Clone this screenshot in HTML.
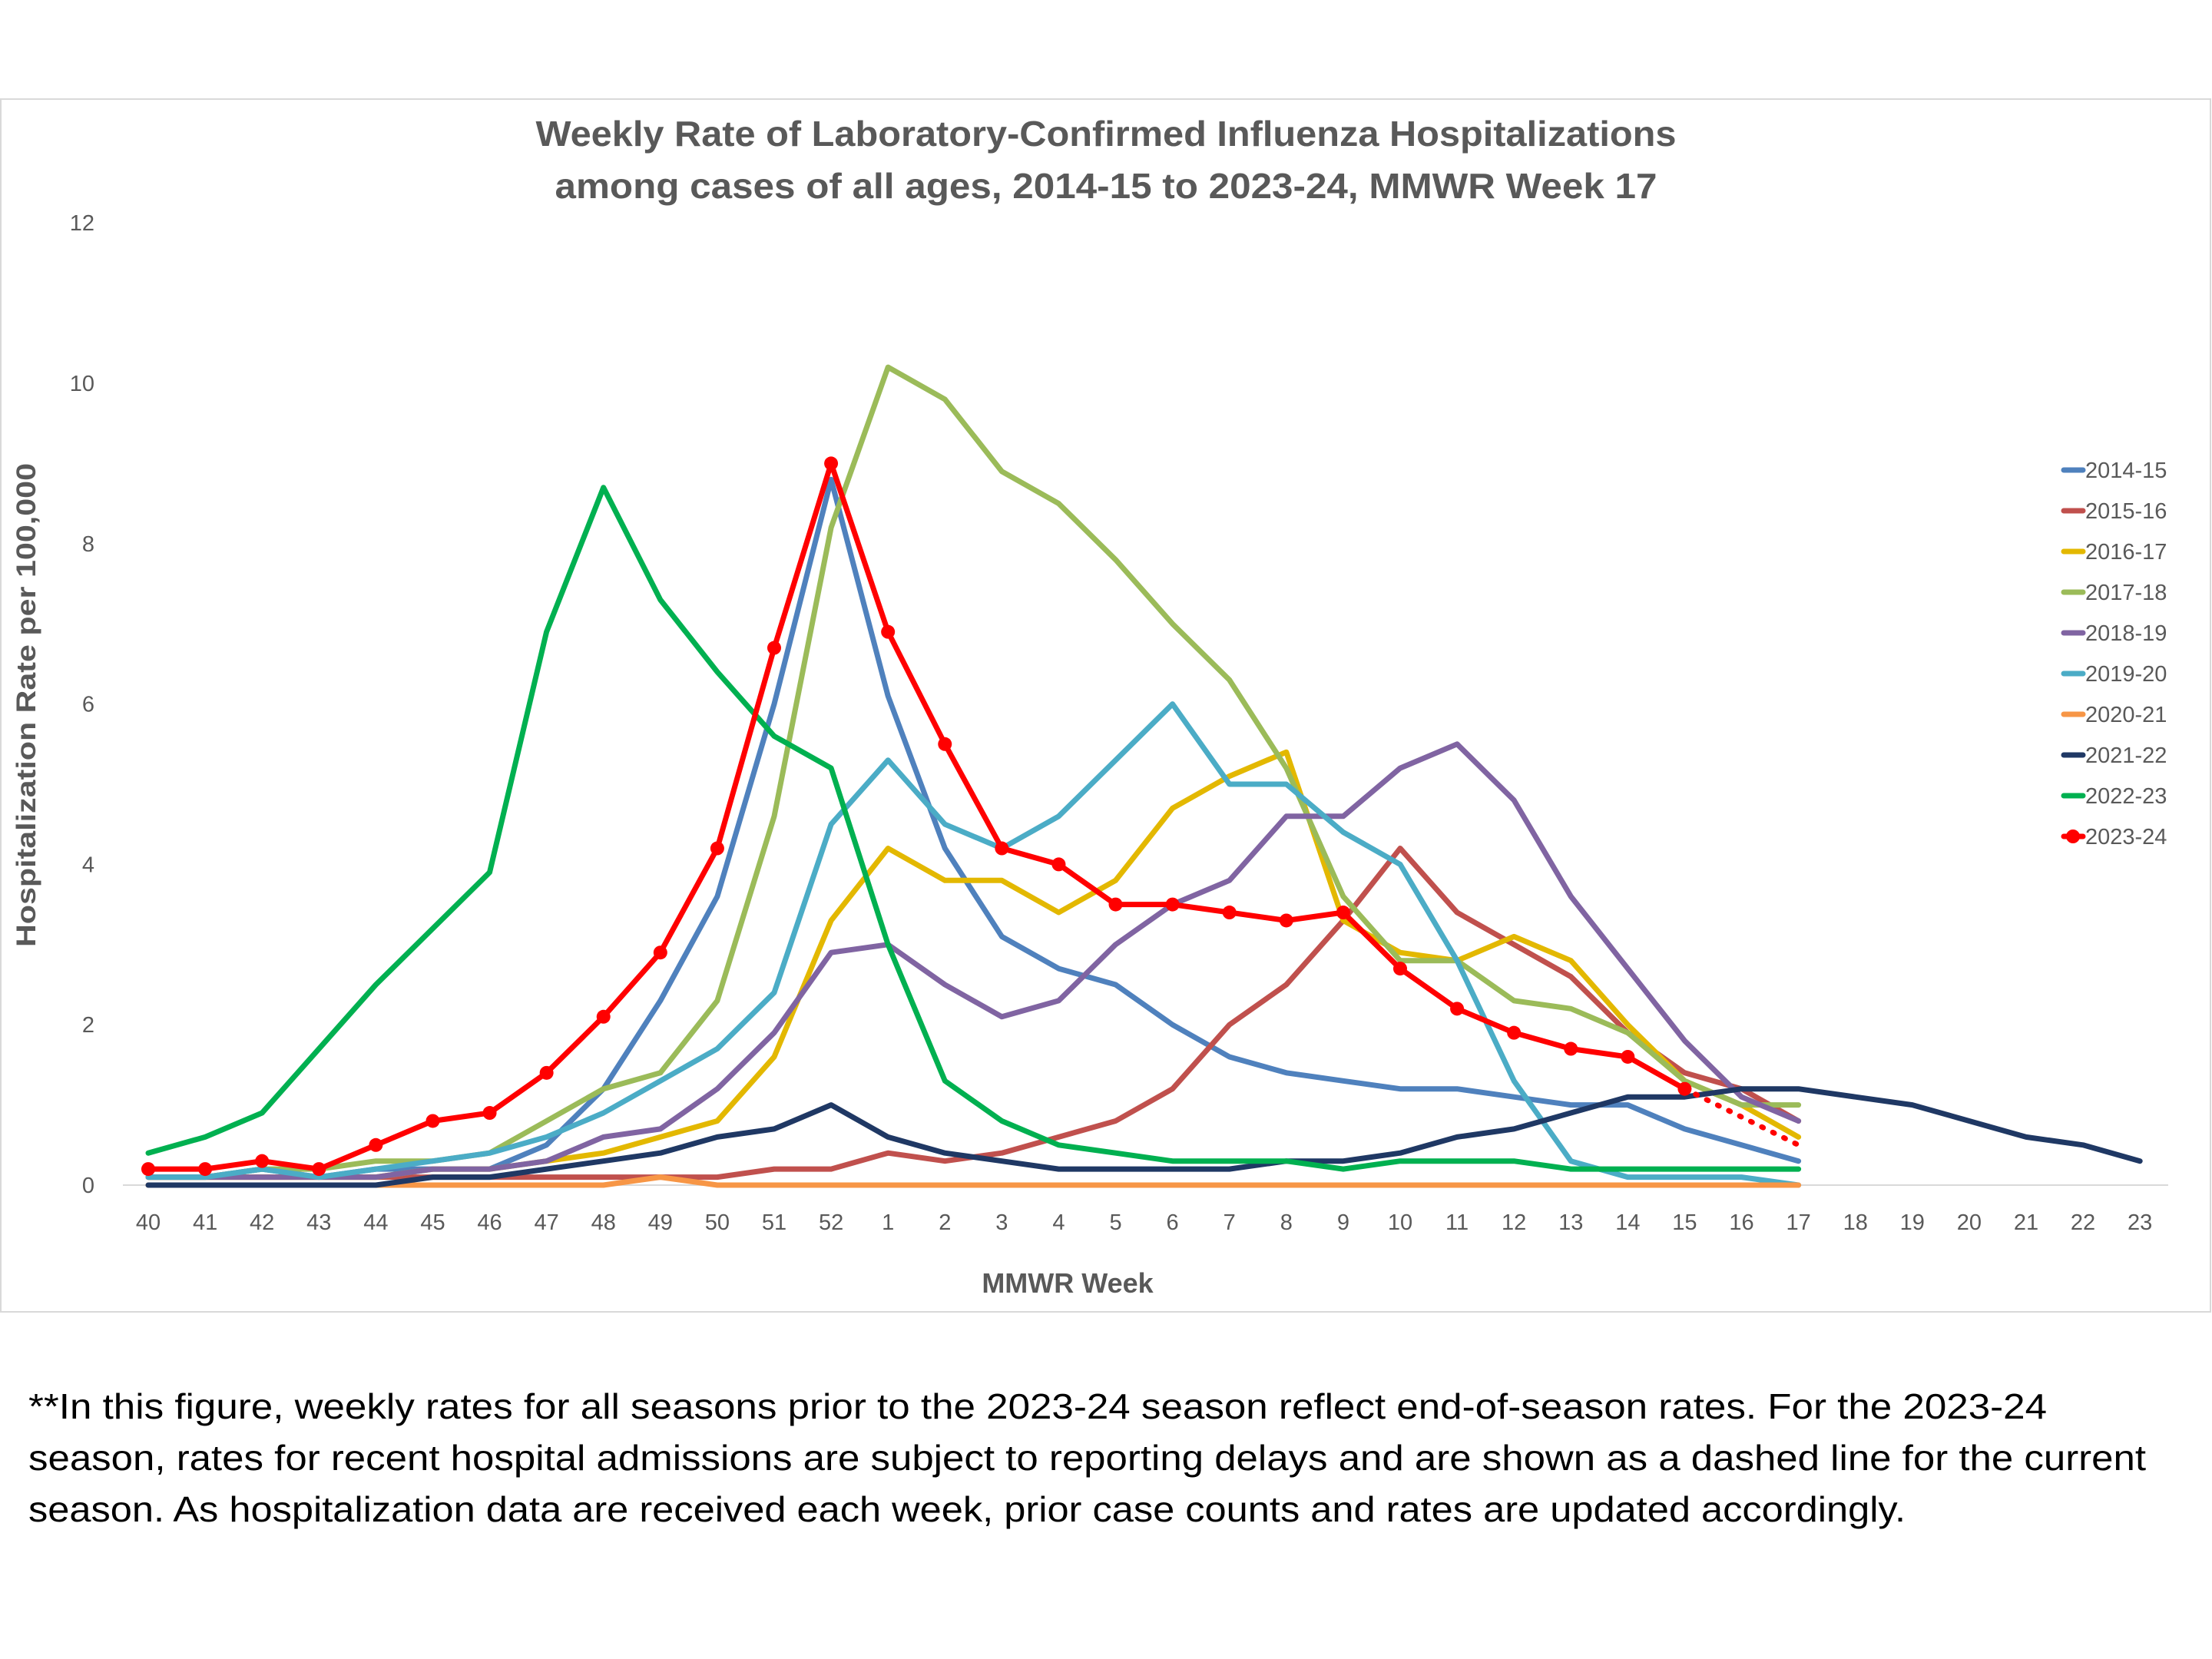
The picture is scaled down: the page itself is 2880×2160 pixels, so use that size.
<!DOCTYPE html>
<html><head><meta charset="utf-8"><style>
html,body{margin:0;padding:0;background:#fff;}
svg{display:block;font-family:"Liberation Sans",sans-serif;}
</style></head><body>
<svg id="chart" width="2880" height="2160" viewBox="0 0 2880 2160" xmlns="http://www.w3.org/2000/svg">
<rect x="1" y="129" width="2877" height="1579" fill="#fff" stroke="#d9d9d9" stroke-width="2"/>
<text x="1440" y="190" text-anchor="middle" font-size="46" font-weight="bold" fill="#595959" textLength="1485" lengthAdjust="spacingAndGlyphs">Weekly Rate of Laboratory-Confirmed Influenza Hospitalizations</text>
<text x="1440" y="258" text-anchor="middle" font-size="46" font-weight="bold" fill="#595959" textLength="1435" lengthAdjust="spacingAndGlyphs">among cases of all ages, 2014-15 to 2023-24, MMWR Week 17</text>
<g id="yticks"></g><g id="xticks"></g><g id="series"></g><g id="legend"></g>
<text transform="translate(46,918) rotate(-90)" text-anchor="middle" font-size="35" font-weight="bold" fill="#595959" textLength="630" lengthAdjust="spacingAndGlyphs">Hospitalization Rate per 100,000</text>
<text x="1390" y="1683" text-anchor="middle" font-size="36" font-weight="bold" fill="#595959">MMWR Week</text>
<g font-size="46" fill="#000">
<text x="37" y="1847" textLength="2628" lengthAdjust="spacingAndGlyphs">**In this figure, weekly rates for all seasons prior to the 2023-24 season reflect end-of-season rates. For the 2023-24</text>
<text x="37" y="1914" textLength="2757" lengthAdjust="spacingAndGlyphs">season, rates for recent hospital admissions are subject to reporting delays and are shown as a dashed line for the current</text>
<text x="37" y="1981" textLength="2444" lengthAdjust="spacingAndGlyphs">season. As hospitalization data are received each week, prior case counts and rates are updated accordingly.</text>
</g>
</svg>
<script>
const weeks = ["40","41","42","43","44","45","46","47","48","49","50","51","52","1","2","3","4","5","6","7","8","9","10","11","12","13","14","15","16","17","18","19","20","21","22","23"];
const yTicks = [0,2,4,6,8,10,12];
const seasonNames = ["2014-15","2015-16","2016-17","2017-18","2018-19","2019-20","2020-21","2021-22","2022-23","2023-24"];
const seasonColors = ["#4f81bd","#c0504d","#e3b800","#9bbb59","#8064a2","#4bacc6","#f79646","#1f3864","#00b050","#ff0000"];
const s2014 = [0.1,0.1,0.2,0.1,0.2,0.2,0.2,0.5,1.2,2.3,3.6,6.0,8.8,6.1,4.2,3.1,2.7,2.5,2.0,1.6,1.4,1.3,1.2,1.2,1.1,1.0,1.0,0.7,0.5,0.3];
const s2015 = [0.1,0.1,0.1,0.1,0.1,0.1,0.1,0.1,0.1,0.1,0.1,0.2,0.2,0.4,0.3,0.4,0.6,0.8,1.2,2.0,2.5,3.3,4.2,3.4,3.0,2.6,1.9,1.4,1.2,0.8];
const s2016 = [0.1,0.1,0.1,0.1,0.1,0.2,0.2,0.3,0.4,0.6,0.8,1.6,3.3,4.2,3.8,3.8,3.4,3.8,4.7,5.1,5.4,3.3,2.9,2.8,3.1,2.8,2.0,1.3,1.0,0.6];
const s2017 = [0.1,0.1,0.2,0.2,0.3,0.3,0.4,0.8,1.2,1.4,2.3,4.6,8.2,10.2,9.8,8.9,8.5,7.8,7.0,6.3,5.2,3.6,2.8,2.8,2.3,2.2,1.9,1.3,1.0,1.0];
const s2018 = [0.1,0.1,0.1,0.1,0.1,0.2,0.2,0.3,0.6,0.7,1.2,1.9,2.9,3.0,2.5,2.1,2.3,3.0,3.5,3.8,4.6,4.6,5.2,5.5,4.8,3.6,2.7,1.8,1.1,0.8];
const s2019 = [0.1,0.1,0.2,0.1,0.2,0.3,0.4,0.6,0.9,1.3,1.7,2.4,4.5,5.3,4.5,4.2,4.6,5.3,6.0,5.0,5.0,4.4,4.0,2.8,1.3,0.3,0.1,0.1,0.1,0.0];
const s2020 = [0,0,0,0,0,0,0,0,0,0.1,0,0,0,0,0,0,0,0,0,0,0,0,0,0,0,0,0,0,0,0];
const s2021 = [0,0,0,0,0,0.1,0.1,0.2,0.3,0.4,0.6,0.7,1.0,0.6,0.4,0.3,0.2,0.2,0.2,0.2,0.3,0.3,0.4,0.6,0.7,0.9,1.1,1.1,1.2,1.2,1.1,1.0,0.8,0.6,0.5,0.3];
const s2022 = [0.4,0.6,0.9,1.7,2.5,3.2,3.9,6.9,8.7,7.3,6.4,5.6,5.2,3.0,1.3,0.8,0.5,0.4,0.3,0.3,0.3,0.2,0.3,0.3,0.3,0.2,0.2,0.2,0.2,0.2];
const s2023 = [0.2,0.2,0.3,0.2,0.5,0.8,0.9,1.4,2.1,2.9,4.2,6.7,9.0,6.9,5.5,4.2,4.0,3.5,3.5,3.4,3.3,3.4,2.7,2.2,1.9,1.7,1.6,1.2];
const s2023Provisional = [1.2,0.85,0.5];
const seriesData = [s2014,s2015,s2016,s2017,s2018,s2019,s2020,s2021,s2022,s2023];

const NS = "http://www.w3.org/2000/svg";
const X0 = 193, DX = 74.09, Y0 = 1543, DY = 104.4;
function xs(i){ return X0 + i*DX; }
function ys(v){ return Y0 - v*DY; }
function mk(tag, attrs, parent){ const e=document.createElementNS(NS,tag); for(const k in attrs) e.setAttribute(k,attrs[k]); parent.appendChild(e); return e; }

const yg = document.getElementById('yticks');
yTicks.forEach(t=>{
  const tx = mk('text',{x:123,y:ys(t)+10,'text-anchor':'end','font-size':29,fill:'#595959'},yg);
  
  
  tx.textContent = t;
});
const xg = document.getElementById('xticks');
const axis = mk('line',{x1:160,x2:2823,y1:Y0,y2:Y0,stroke:'#d9d9d9','stroke-width':2},xg);


weeks.forEach((w,i)=>{
  const tx = mk('text',{x:xs(i),y:1601,'text-anchor':'middle','font-size':29,fill:'#595959'},xg);
  
  
  tx.textContent = w;
});
const sg = document.getElementById('series');
seriesData.forEach((d,si)=>{
  const pts = d.map((v,i)=>xs(i).toFixed(1)+','+ys(v).toFixed(1)).join(' ');
  const pl = mk('polyline',{points:pts,fill:'none',stroke:seasonColors[si],'stroke-width':7,'stroke-linejoin':'round','stroke-linecap':'round'},sg);
  
  
});
// provisional dotted part for 2023-24
const off = s2023.length-1;
const dp = mk('polyline',{points:s2023Provisional.map((v,i)=>xs(off+i).toFixed(1)+','+ys(v).toFixed(1)).join(' '),fill:'none',stroke:'#ff0000','stroke-width':7,'stroke-dasharray':'2 14','stroke-linecap':'round'},sg);


s2023.forEach((v,i)=>{
  const c = mk('circle',{cx:xs(i),cy:ys(v),r:9,fill:'#ff0000'},sg);
  
  
});
const lg = document.getElementById('legend');
seasonNames.forEach((n,k)=>{
  const y = 612 + k*53;
  const g = mk('g',{},lg);
  
  
  mk('line',{x1:2687,x2:2712,y1:y,y2:y,stroke:seasonColors[k],'stroke-width':7,'stroke-linecap':'round'},g);
  if(k===9) mk('circle',{cx:2699,cy:y,r:9,fill:'#ff0000'},g);
  const t = mk('text',{x:2715,y:y+10,'font-size':29,fill:'#595959'},g);
  t.textContent = n;
});
</script>
</body></html>
